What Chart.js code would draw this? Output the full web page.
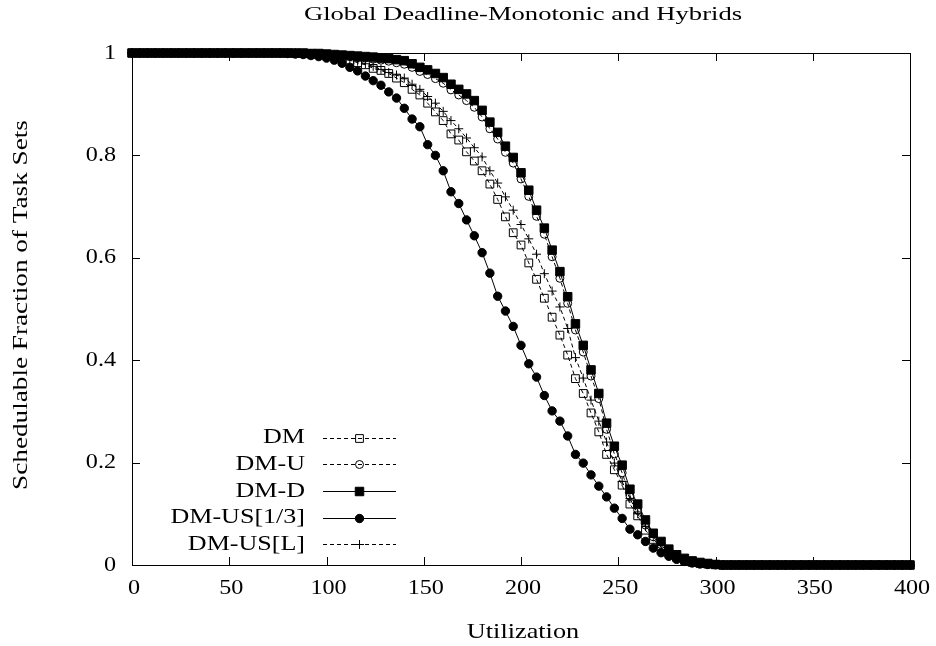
<!DOCTYPE html>
<html>
<head>
<meta charset="utf-8">
<title>Global Deadline-Monotonic and Hybrids</title>
<script src="https://cdn.jsdelivr.net/npm/chart.js@4.4.0/dist/chart.umd.min.js"></script>
<style>
  html, body { margin: 0; padding: 0; background: #fff; }
</style>
</head>
<body>
<canvas id="myChart" width="936" height="646"></canvas>
<script>
// utilization values (x), one point every 4
let utilization = [
    0, 4, 8, 12, 16, 20, 24, 28, 32, 36,
    40, 44, 48, 52, 56, 60, 64, 68, 72, 76,
    80, 84, 88, 92, 96, 100, 104, 108, 112, 116,
    120, 124, 128, 132, 136, 140, 144, 148, 152, 156,
    160, 164, 168, 172, 176, 180, 184, 188, 192, 196,
    200, 204, 208, 212, 216, 220, 224, 228, 232, 236,
    240, 244, 248, 252, 256, 260, 264, 268, 272, 276,
    280, 284, 288, 292, 296, 300, 304, 308, 312, 316,
    320, 324, 328, 332, 336, 340, 344, 348, 352, 356,
    360, 364, 368, 372, 376, 380, 384, 388, 392, 396,
    400
]

let dmValues = [
    1, 1, 1, 1, 1, 1, 1, 1, 1, 1,
    1, 1, 1, 1, 1, 1, 1, 1, 1, 1,
    1, 0.999, 0.999, 0.998, 0.997, 0.995, 0.993, 0.99, 0.986, 0.981,
    0.977, 0.97, 0.966, 0.96, 0.951, 0.942, 0.929, 0.918, 0.902, 0.885,
    0.868, 0.842, 0.83, 0.807, 0.789, 0.77, 0.744, 0.714, 0.68, 0.649,
    0.625, 0.59, 0.558, 0.521, 0.484, 0.449, 0.41, 0.364, 0.335, 0.297,
    0.26, 0.216, 0.186, 0.156, 0.119, 0.096, 0.068, 0.05, 0.035, 0.024,
    0.015, 0.009, 0.005, 0.003, 0.002, 0.001, 0, 0, 0, 0,
    0, 0, 0, 0, 0, 0, 0, 0, 0, 0,
    0, 0, 0, 0, 0, 0, 0, 0, 0, 0,
    0
]

let dmUValues = [
    1, 1, 1, 1, 1, 1, 1, 1, 1, 1,
    1, 1, 1, 1, 1, 1, 1, 1, 1, 1,
    1, 1, 0.999, 0.999, 0.998, 0.997, 0.996, 0.995, 0.993, 0.992,
    0.99, 0.988, 0.986, 0.984, 0.981, 0.978, 0.972, 0.964, 0.958, 0.95,
    0.941, 0.928, 0.918, 0.907, 0.894, 0.875, 0.852, 0.832, 0.806, 0.785,
    0.754, 0.72, 0.681, 0.646, 0.602, 0.56, 0.511, 0.459, 0.416, 0.369,
    0.325, 0.265, 0.217, 0.18, 0.135, 0.107, 0.078, 0.055, 0.04, 0.027,
    0.017, 0.011, 0.007, 0.004, 0.002, 0.001, 0, 0, 0, 0,
    0, 0, 0, 0, 0, 0, 0, 0, 0, 0,
    0, 0, 0, 0, 0, 0, 0, 0, 0, 0,
    0
]

let dmDValues = [
    1, 1, 1, 1, 1, 1, 1, 1, 1, 1,
    1, 1, 1, 1, 1, 1, 1, 1, 1, 1,
    1, 1, 1, 0.999, 0.999, 0.998, 0.997, 0.996, 0.995, 0.994,
    0.993, 0.992, 0.99, 0.989, 0.987, 0.985, 0.979, 0.972, 0.967, 0.96,
    0.952, 0.939, 0.929, 0.92, 0.907, 0.888, 0.865, 0.845, 0.818, 0.796,
    0.766, 0.732, 0.693, 0.658, 0.615, 0.573, 0.524, 0.471, 0.429, 0.381,
    0.335, 0.277, 0.232, 0.195, 0.148, 0.119, 0.088, 0.062, 0.046, 0.031,
    0.02, 0.013, 0.008, 0.005, 0.003, 0.001, 0, 0, 0, 0,
    0, 0, 0, 0, 0, 0, 0, 0, 0, 0,
    0, 0, 0, 0, 0, 0, 0, 0, 0, 0,
    0
]

let dmUS13Values = [
    1, 1, 1, 1, 1, 1, 1, 1, 1, 1,
    1, 1, 1, 1, 1, 1, 1, 1, 1, 1,
    0.999, 0.998, 0.997, 0.995, 0.993, 0.99, 0.986, 0.98, 0.972, 0.965,
    0.955, 0.946, 0.937, 0.924, 0.912, 0.892, 0.871, 0.856, 0.821, 0.8,
    0.77, 0.729, 0.706, 0.674, 0.643, 0.61, 0.57, 0.525, 0.496, 0.466,
    0.429, 0.393, 0.367, 0.331, 0.301, 0.281, 0.252, 0.216, 0.199, 0.176,
    0.154, 0.133, 0.111, 0.091, 0.07, 0.059, 0.046, 0.033, 0.024, 0.017,
    0.011, 0.007, 0.004, 0.002, 0.001, 0.0005, 0, 0, 0, 0,
    0, 0, 0, 0, 0, 0, 0, 0, 0, 0,
    0, 0, 0, 0, 0, 0, 0, 0, 0, 0,
    0
]

let dmUSLValues = [
    1, 1, 1, 1, 1, 1, 1, 1, 1, 1,
    1, 1, 1, 1, 1, 1, 1, 1, 1, 1,
    1, 1, 0.999, 0.999, 0.998, 0.996, 0.994, 0.991, 0.988, 0.984,
    0.979, 0.974, 0.968, 0.962, 0.957, 0.951, 0.939, 0.929, 0.915, 0.902,
    0.886, 0.868, 0.852, 0.834, 0.815, 0.797, 0.77, 0.746, 0.719, 0.693,
    0.665, 0.637, 0.607, 0.569, 0.535, 0.504, 0.462, 0.405, 0.365, 0.322,
    0.281, 0.24, 0.199, 0.163, 0.13, 0.1, 0.075, 0.055, 0.038, 0.026,
    0.017, 0.01, 0.006, 0.003, 0.002, 0.001, 0, 0, 0, 0,
    0, 0, 0, 0, 0, 0, 0, 0, 0, 0,
    0, 0, 0, 0, 0, 0, 0, 0, 0, 0,
    0
]

let seriesNames = ['DM', 'DM-U', 'DM-D', 'DM-US[1/3]', 'DM-US[L]']
let xTicks = [0, 50, 100, 150, 200, 250, 300, 350, 400]
let yTicks = [0, 0.2, 0.4, 0.6, 0.8, 1]
let yTickLabels = ['0', '0.2', '0.4', '0.6', '0.8', '1']

let chartTitle = 'Global Deadline-Monotonic and Hybrids'
let xTitle = 'Utilization'
let yTitle = 'Schedulable Fraction of Task Sets'

let serif = '"Liberation Serif", "DejaVu Serif", serif'

function points(values) {
    let out = []
    for (let i = 0; i < utilization.length; i++) {
        out.push({ x: utilization[i], y: values[i] })
    }
    return out
}

function makeSet(name, values, style, radius, filled, dashed, order) {
    return {
        label: name,
        data: points(values),
        borderColor: '#000',
        borderWidth: 1,
        borderDash: dashed ? [4, 3] : [],
        pointStyle: style,
        pointRadius: radius,
        pointBorderWidth: 1,
        pointBorderColor: '#000',
        pointBackgroundColor: filled ? '#000' : 'transparent',
        tension: 0,
        fill: false,
        clip: false,
        order: order
    }
}

// text drawn a bit wider than normal, like the original plot
function wideText(ctx, text, x, y, size, sx, align, angle) {
    ctx.save()
    ctx.translate(x, y)
    if (angle) ctx.rotate(angle)
    ctx.scale(sx, 1)
    ctx.font = size + 'px ' + serif
    ctx.fillStyle = '#000'
    ctx.textAlign = align
    ctx.textBaseline = 'middle'
    ctx.fillText(text, 0, 0)
    ctx.restore()
}

function drawMarker(ctx, ds, x, y) {
    let r = ds.pointRadius
    ctx.beginPath()
    if (ds.pointStyle === 'rect') {
        let s = r * Math.SQRT1_2
        ctx.rect(x - s, y - s, 2 * s, 2 * s)
    } else if (ds.pointStyle === 'circle') {
        ctx.arc(x, y, r, 0, Math.PI * 2)
    } else {
        ctx.moveTo(x, y - r); ctx.lineTo(x, y + r)
        ctx.moveTo(x - r, y); ctx.lineTo(x + r, y)
    }
    if (ds.pointBackgroundColor !== 'transparent') ctx.fill()
    ctx.stroke()
}

// frame with inward ticks, texts and the legend
let framePlugin = {
    id: 'frame',
    beforeDatasetsDraw: function (chart) {
        let ctx = chart.ctx, a = chart.chartArea
        let xs = chart.scales.x, ys = chart.scales.y
        ctx.save()
        ctx.strokeStyle = '#000'
        ctx.lineWidth = 1
        ctx.strokeRect(Math.round(a.left) + 0.5, Math.round(a.top) + 0.5, Math.round(a.right - a.left), Math.round(a.bottom - a.top))
        ctx.beginPath()
        for (let i = 0; i < xTicks.length; i++) {
            let px = Math.round(xs.getPixelForValue(xTicks[i])) + 0.5
            ctx.moveTo(px, a.bottom); ctx.lineTo(px, a.bottom - 8)
            ctx.moveTo(px, a.top); ctx.lineTo(px, a.top + 8)
        }
        for (let i = 0; i < yTicks.length; i++) {
            let py = Math.round(ys.getPixelForValue(yTicks[i])) + 0.5
            ctx.moveTo(a.left, py); ctx.lineTo(a.left + 8, py)
            ctx.moveTo(a.right, py); ctx.lineTo(a.right - 8, py)
        }
        ctx.stroke()
        ctx.restore()
    },
    afterDraw: function (chart) {
        let ctx = chart.ctx, a = chart.chartArea
        let xs = chart.scales.x, ys = chart.scales.y
        let midX = (a.left + a.right) / 2 + 2

        for (let i = 0; i < xTicks.length; i++) {
            wideText(ctx, String(xTicks[i]), xs.getPixelForValue(xTicks[i]) + 2, 588, 21, 1.15, 'center')
        }
        for (let i = 0; i < yTicks.length; i++) {
            wideText(ctx, yTickLabels[i], 116, ys.getPixelForValue(yTicks[i]), 21, 1.15, 'right')
        }
        wideText(ctx, chartTitle, midX, 15, 19, 1.4, 'center')
        wideText(ctx, xTitle, midX, 632, 21, 1.25, 'center')
        wideText(ctx, yTitle, 22, 305, 20, 1.36, 'center', -Math.PI / 2)

        // legend, bottom left inside the plot
        let sets = chart.data.datasets
        for (let i = 0; i < sets.length; i++) {
            let ds = sets[i]
            let y = 437.7 + i * 26.65
            wideText(ctx, ds.label, 305, y, 21, 1.24, 'right')
            ctx.save()
            ctx.strokeStyle = '#000'
            ctx.fillStyle = '#000'
            ctx.lineWidth = 1
            ctx.setLineDash(ds.borderDash)
            ctx.beginPath()
            ctx.moveTo(323, Math.round(y) + 0.5)
            ctx.lineTo(396, Math.round(y) + 0.5)
            ctx.stroke()
            ctx.setLineDash([])
            drawMarker(ctx, ds, 359.5, Math.round(y) + 0.5)
            ctx.restore()
        }
    }
}

let ctx = document.getElementById('myChart').getContext('2d')
let myChart = new Chart(ctx, {
    type: 'line',
    data: {
        datasets: [
            makeSet(seriesNames[0], dmValues, 'rect', 5.5, false, true, 5),
            makeSet(seriesNames[1], dmUValues, 'circle', 4, false, true, 4),
            makeSet(seriesNames[2], dmDValues, 'rect', 6, true, false, 3),
            makeSet(seriesNames[3], dmUS13Values, 'circle', 4.2, true, false, 2),
            makeSet(seriesNames[4], dmUSLValues, 'cross', 4.5, false, true, 1)
        ]
    },
    options: {
        responsive: false,
        animation: false,
        layout: { padding: { top: 53, right: 26, bottom: 0, left: 0 } },
        plugins: {
            legend: { display: false },
            title: { display: false },
            tooltip: { enabled: false }
        },
        scales: {
            x: {
                type: 'linear',
                min: 0,
                max: 400,
                ticks: { stepSize: 50, display: false },
                grid: { display: false },
                border: { display: false },
                afterFit: function (s) { s.height = 81 }
            },
            y: {
                min: 0,
                max: 1,
                ticks: { stepSize: 0.2, display: false },
                grid: { display: false },
                border: { display: false },
                afterFit: function (s) { s.width = 132 }
            }
        }
    },
    plugins: [framePlugin]
})
</script>
</body>
</html>
